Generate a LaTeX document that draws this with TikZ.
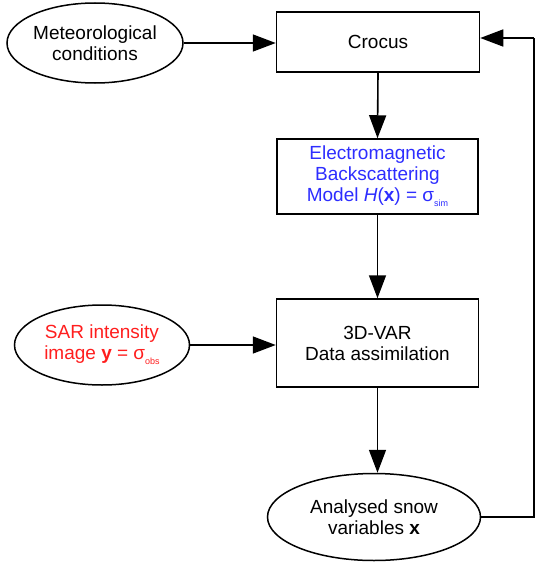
\documentclass[tikz,border=0pt]{standalone}
\usepackage{fontspec}
\setmainfont{Liberation Sans}
\usetikzlibrary{arrows.meta,shapes.geometric}
\definecolor{emblue}{RGB}{45,45,255}
\definecolor{sarred}{RGB}{255,30,30}
\newcommand{\lowsub}[1]{\raisebox{-5pt}{\fontsize{9}{9}\selectfont #1}}
\begin{document}
\begin{tikzpicture}[x=1pt,y=-1pt,
  every node/.style={font=\fontsize{19}{21}\selectfont},
  box/.style={draw, line width=1.5pt, align=center, inner sep=0pt},
  oval/.style={draw, ellipse, line width=1.5pt, align=center, inner sep=0pt},
  arr/.style={line width=1.6pt, -{Triangle[length=23pt,width=17pt]}},
  ln/.style={line width=1.6pt}]
\useasboundingbox (0,0) rectangle (537,562);
\node[oval, minimum width=176pt, minimum height=80pt] (meteo) at (95,43) {Meteorological\\conditions};
\node[box, minimum width=203pt, minimum height=60pt] (crocus) at (378,42) {Crocus};
\node[box, minimum width=201pt, minimum height=75pt, text=emblue] (em) at (377.5,176.5)
  {Electromagnetic\\Backscattering\\Model \textit{H}(\textbf{x}) = σ\lowsub{sim}};
\node[oval, minimum width=175pt, minimum height=80pt, text=sarred] (sar) at (102,345)
  {SAR intensity\\image \textbf{y} = σ\lowsub{obs}};
\node[box, minimum width=202pt, minimum height=88pt] (var) at (377.5,343) {3D-VAR\\Data assimilation};
\node[oval, minimum width=213pt, minimum height=87pt] (ana) at (374,517) {Analysed snow\\variables \textbf{x}};
\coordinate (fb1) at (534,517);
\coordinate (fb2) at (534,38);
\draw[arr] (meteo.east) -- (meteo.east -| crocus.west);
\draw[arr] (crocus.south) -- (em.north);
\draw[arr] (em.south) -- (var.north);
\draw[arr] (sar.east) -- (sar.east -| var.west);
\draw[arr] (var.south) -- (var.south |- ana.north);
\draw[ln] (ana.east) -- (fb1) -- (fb2);
\draw[arr] (fb2) -- (fb2 -| crocus.east);
\end{tikzpicture}
\end{document}
